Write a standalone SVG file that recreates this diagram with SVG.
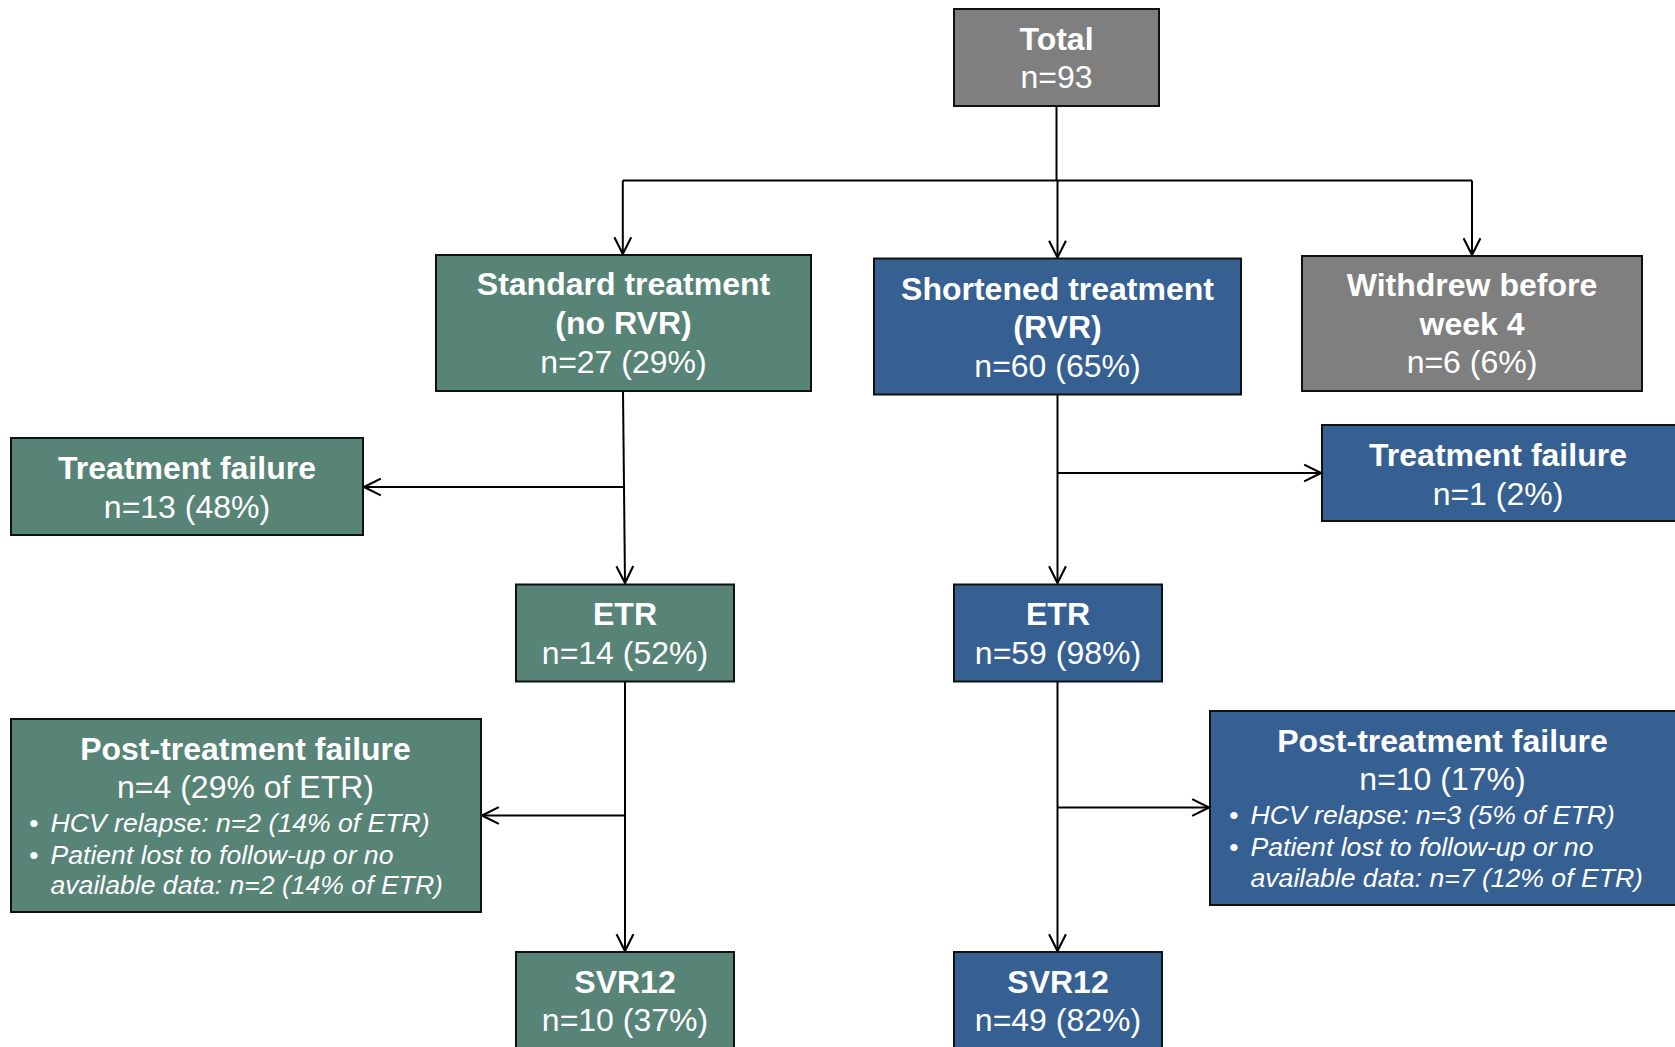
<svg xmlns="http://www.w3.org/2000/svg" width="1675" height="1047" viewBox="0 0 1675 1047">
<style>
.box{stroke:#111;stroke-width:2}
.g{fill:#588377}
.b{fill:#366092}
.k{fill:#7f7f7f}
text{font-family:"Liberation Sans",Arial,sans-serif;fill:#fff;text-anchor:middle;font-size:32px}
.t{font-weight:bold}
.i{font-style:italic;font-size:26.6px;text-anchor:start}
.c{fill:none;stroke:#000;stroke-width:2}
</style>
<defs>
<marker id="ah" markerUnits="userSpaceOnUse" markerWidth="20" markerHeight="20" viewBox="-17 -9 19 18" refX="0" refY="0" orient="auto">
<path d="M-16,-8 L0,0 L-16,8" fill="none" stroke="#000" stroke-width="2"/>
</marker>
</defs>
<g id="connectors">
<path class="c" d="M1056.5,106 V180.5 M622.8,180.5 H1472"/>
<path class="c" d="M622.8,180.5 V254" marker-end="url(#ah)"/>
<path class="c" d="M1057.5,180.5 V257.5" marker-end="url(#ah)"/>
<path class="c" d="M1472,180.5 V255" marker-end="url(#ah)"/>
<path class="c" d="M623,391 L625,583" marker-end="url(#ah)"/>
<path class="c" d="M623.8,487 H364" marker-end="url(#ah)"/>
<path class="c" d="M1057.5,394 V583" marker-end="url(#ah)"/>
<path class="c" d="M1057.5,473 H1321" marker-end="url(#ah)"/>
<path class="c" d="M625,682 V951" marker-end="url(#ah)"/>
<path class="c" d="M625,815.5 H482" marker-end="url(#ah)"/>
<path class="c" d="M1057.5,682 V951" marker-end="url(#ah)"/>
<path class="c" d="M1057.5,807.5 H1209" marker-end="url(#ah)"/>
</g>
<g id="total">
<rect class="box k" x="954" y="9" width="205" height="97"/>
<text class="t" x="1056.5" y="50">Total</text>
<text x="1056.5" y="88">n=93</text>
</g>
<g id="standard">
<rect class="box g" x="436" y="255" width="375" height="136"/>
<text class="t" x="623.5" y="295">Standard treatment</text>
<text class="t" x="623.5" y="334">(no RVR)</text>
<text x="623.5" y="373">n=27 (29%)</text>
</g>
<g id="shortened">
<rect class="box b" x="874" y="258.5" width="367" height="136"/>
<text class="t" x="1057.5" y="300">Shortened treatment</text>
<text class="t" x="1057.5" y="338">(RVR)</text>
<text x="1057.5" y="377">n=60 (65%)</text>
</g>
<g id="withdrew">
<rect class="box k" x="1302" y="256" width="340" height="135"/>
<text class="t" x="1472" y="296">Withdrew before</text>
<text class="t" x="1472" y="335">week 4</text>
<text x="1472" y="373">n=6 (6%)</text>
</g>
<g id="fail-std">
<rect class="box g" x="11" y="438" width="352" height="97"/>
<text class="t" x="187" y="479">Treatment failure</text>
<text x="187" y="518">n=13 (48%)</text>
</g>
<g id="fail-short">
<rect class="box b" x="1322" y="425" width="356" height="96"/>
<text class="t" x="1498" y="466">Treatment failure</text>
<text x="1498" y="505">n=1 (2%)</text>
</g>
<g id="etr-std">
<rect class="box g" x="516" y="584.5" width="218" height="97"/>
<text class="t" x="625" y="625">ETR</text>
<text x="625" y="664">n=14 (52%)</text>
</g>
<g id="etr-short">
<rect class="box b" x="954" y="584.5" width="208" height="97"/>
<text class="t" x="1058" y="625">ETR</text>
<text x="1058" y="664">n=59 (98%)</text>
</g>
<g id="post-std">
<rect class="box g" x="11" y="719" width="470" height="193"/>
<text class="t" x="245.5" y="760">Post-treatment failure</text>
<text x="245.5" y="798">n=4 (29% of ETR)</text>
<text class="i" x="29" y="832">•</text>
<text class="i" x="50.5" y="832">HCV relapse: n=2 (14% of ETR)</text>
<text class="i" x="29" y="864">•</text>
<text class="i" x="50.5" y="864">Patient lost to follow-up or no</text>
<text class="i" x="50.5" y="894">available data: n=2 (14% of ETR)</text>
</g>
<g id="post-short">
<rect class="box b" x="1210" y="711" width="468" height="194"/>
<text class="t" x="1442.5" y="752">Post-treatment failure</text>
<text x="1442.5" y="790">n=10 (17%)</text>
<text class="i" x="1229" y="824">•</text>
<text class="i" x="1250.5" y="824">HCV relapse: n=3 (5% of ETR)</text>
<text class="i" x="1229" y="856">•</text>
<text class="i" x="1250.5" y="856">Patient lost to follow-up or no</text>
<text class="i" x="1250.5" y="887">available data: n=7 (12% of ETR)</text>
</g>
<g id="svr-std">
<rect class="box g" x="516" y="952" width="218" height="100"/>
<text class="t" x="625" y="993">SVR12</text>
<text x="625" y="1031">n=10 (37%)</text>
</g>
<g id="svr-short">
<rect class="box b" x="954" y="952" width="208" height="100"/>
<text class="t" x="1058" y="993">SVR12</text>
<text x="1058" y="1031">n=49 (82%)</text>
</g>
</svg>
